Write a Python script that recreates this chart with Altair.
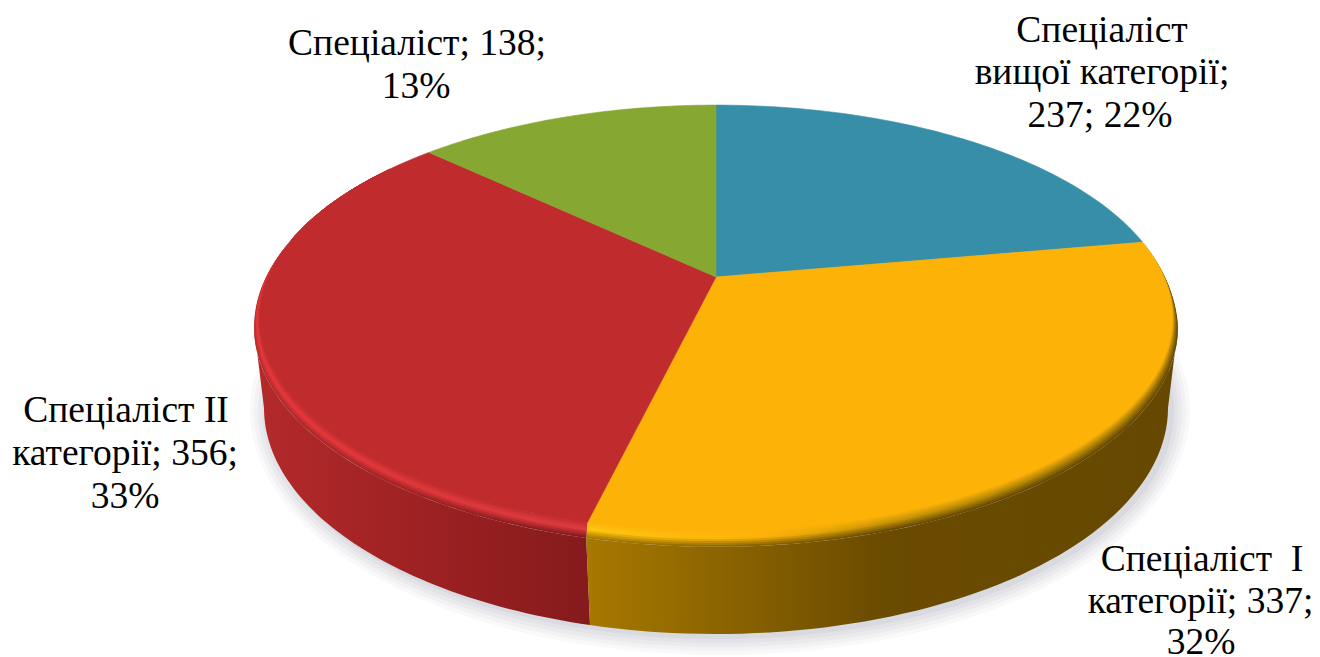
import math
import altair as alt
import pandas as pd

categories = ["Спеціаліст вищої категорії", "Спеціаліст I категорії", "Спеціаліст II категорії", "Спеціаліст"]
values = [237, 337, 356, 138]
colors = ["#378EA8", "#FDB208", "#C02C2E", "#86A832"]
label_lines = ["Спеціаліст", "вищої категорії;", "237; 22%",
               "Спеціаліст\u00a0\u00a0I", "категорії; 337;", "32%",
               "Спеціаліст II", "категорії; 356;", "33%",
               "Спеціаліст; 138;", "13%"]
label_x = [1102, 1102, 1100, 1202, 1200.5, 1201, 126, 125, 125, 417, 416]
label_y = [42, 84, 127, 571, 613, 654, 422, 465, 508, 55, 98]

W, H = 1304, 649
CX, CY, A, B, K = 716, 277, 448, 205, 0.1925
BY, BRX, BRY = 408, 452, 226
SX, SY = 5.5, 8

xs = alt.X("x:Q", scale=alt.Scale(domain=[8, 8 + W], range=[0, W]), axis=None)
ys = alt.Y("y:Q", scale=alt.Scale(domain=[8, 8 + H], range=[0, H]), axis=None)


def rim(deg):
    a = math.radians(deg)
    u, v = math.sin(a), -math.cos(a)
    w = 1 - K * v
    return CX + A * u / w, CY + B * v / w


def outer(deg, t=1.0):
    a = math.radians(deg)
    x, y = rim(deg)
    f = min(1.0, max(0.0, (deg - 80) / 20))
    return x + t * f * SX * math.sin(a), y + t * f * SY * (1 - math.cos(a))


def bottom(deg, grow=0.0, dx=0.0, dy=0.0):
    a = math.radians(deg)
    return CX + dx + (BRX + grow) * math.sin(a), BY + dy - (BRY + grow) * math.cos(a)


def steps(a, b, n=60):
    return [a + (b - a) * i / n for i in range(n + 1)]


def shape(points, **mark):
    df = pd.DataFrame({"x": [p[0] for p in points], "y": [p[1] for p in points], "i": range(len(points))})
    return alt.Chart(df).mark_line(clip=False, **mark).encode(x=xs, y=ys, order=alt.Order("i:Q"))


def grad(stops, vertical=False):
    return alt.LinearGradient(gradient="linear", x1=0, x2=0 if vertical else 1, y1=0, y2=1 if vertical else 0,
                              stops=[alt.GradientStop(color=c, offset=o) for o, c in stops])


def mix(c1, c2, t):
    p = [int(c1[i:i + 2], 16) for i in (1, 3, 5)]
    q = [int(c2[i:i + 2], 16) for i in (1, 3, 5)]
    return "#" + "".join("%02X" % round(a + (b - a) * t) for a, b in zip(p, q))


def band_colour(face, mid, wall, t):
    return mix(face, mid, t / 0.5) if t < 0.5 else mix(mid, wall, (t - 0.5) / 0.5)


total = sum(values)
cum = [0]
for v in values:
    cum.append(cum[-1] + v)
ang = [360 * c / total for c in cum]

layers = []

# soft shadow below the body
for g, op in [(18, 0.05), (14, 0.06), (10, 0.07), (6, 0.08), (2, 0.1)]:
    pts = [bottom(d, g, 4, 3) for d in steps(0, 360, 160)]
    layers.append(shape(pts, fill="#8A90A0", fillOpacity=op, strokeWidth=0, stroke="#8A90A0", strokeOpacity=0))

# side wall
bd = 180 + math.degrees(math.asin((CX - 590) / BRX))
red_side = [outer(d) for d in steps(ang[2], 259)] + [bottom(d) for d in steps(270, bd)]
layers.append(shape(red_side + red_side[:1],
                    fill=grad([(0, "#B42A2B"), (0.45, "#A02223"), (1, "#851A1C")]),
                    stroke="#851A1C", strokeWidth=0))
yellow_side = [outer(d) for d in steps(ang[2], 101)] + [bottom(d) for d in steps(90, bd)]
layers.append(shape(yellow_side + yellow_side[:1],
                    fill=grad([(0, "#A87900"), (0.5, "#6A4B00"), (1, "#664800")]),
                    stroke="#664800", strokeWidth=0))

# bevel between the top face and the wall, painted from its outer edge inwards
ts = [1.0, 0.88, 0.76, 0.64, 0.52, 0.42, 0.32, 0.22, 0.12]
red_face, yellow_face = colors[2], colors[1]
yellow_stops = [(0, "#FFC810", "#A87900"), (0.3, "#FDB208", "#8A6300"),
                (0.5, "#C89606", "#6A4B00"), (1, "#A07808", "#664800")]
red_stops = [(0, "#E8383C", "#B42A2B"), (0.45, "#E2383C", "#A02223"), (1, "#DE3C42", "#851A1C")]
for t in ts:
    upper = [rim(d) for d in steps(272, 306)]
    upper_out = [outer(d, t) for d in steps(306, 272)]
    layers.append(shape(upper + upper_out + upper[:1],
                        fill=grad([(0, red_face), (1, band_colour(red_face, "#E8383C", "#B42A2B", t))], vertical=True),
                        strokeWidth=0, stroke=red_face))
    inner = [rim(d) for d in steps(ang[2], 272)]
    outs = [outer(d, t) for d in steps(272, ang[2])]
    layers.append(shape(inner + outs + inner[:1],
                        fill=grad([(o, band_colour(red_face, m, w, t)) for o, m, w in red_stops]),
                        strokeWidth=0, stroke=red_face))
    inner = [rim(d) for d in steps(ang[1], ang[2], 80)]
    outs = [outer(d, t) for d in steps(ang[2], ang[1], 80)]
    layers.append(shape(inner + outs + inner[:1],
                        fill=grad([(o, band_colour(yellow_face, m, w, t)) for o, m, w in yellow_stops]),
                        strokeWidth=0, stroke=yellow_face))

# top face
for i, c in enumerate(colors):
    pts = [(CX, CY)] + [rim(d) for d in steps(ang[i], ang[i + 1], 80)] + [(CX, CY)]
    layers.append(shape(pts, fill=c, stroke=c, strokeWidth=0.6))

# labels
labels = pd.DataFrame({"x": label_x, "y": label_y, "t": label_lines})
layers.append(alt.Chart(labels).mark_text(font="Liberation Serif", fontSize=37.5, color="#000000", align="center",
                                          baseline="alphabetic", clip=False)
              .encode(x=xs, y=ys, text="t:N"))

chart = alt.layer(*layers).properties(width=W, height=H, padding=0,
                                      autosize=alt.AutoSizeParams(type="none"),
                                      view=alt.ViewBackground(stroke="transparent", strokeWidth=0)) \
    .configure_view(stroke="transparent", strokeWidth=0).configure(background="#ffffff")
chart.save("out.html", embed_options={"renderer": "svg", "actions": False})
